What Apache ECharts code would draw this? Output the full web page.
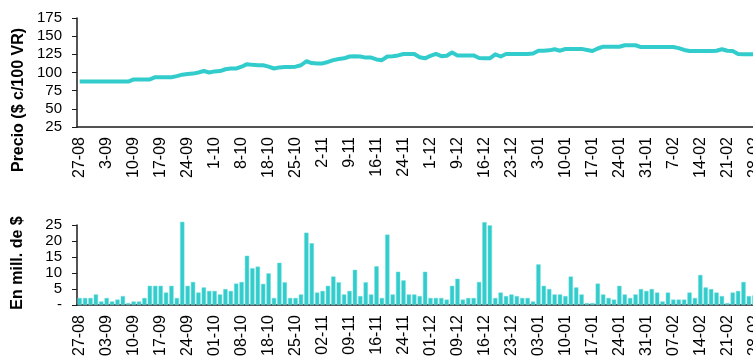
<!DOCTYPE html>
<html>
<head>
<meta charset="utf-8">
<script src="https://cdn.jsdelivr.net/npm/echarts@6/dist/echarts.min.js"></script>
<style>
  html, body { margin: 0; padding: 0; background: #fff; }
  #chart { width: 753px; height: 360px; }
</style>
</head>
<body>
<div id="chart"></div>
<script>
// Trading days (dd-mm)
const fechas = [
  '27-08','28-08','29-08','30-08','31-08',
  '03-09','04-09','05-09','06-09','07-09',
  '10-09','11-09','12-09','13-09','14-09',
  '17-09','18-09','19-09','20-09','21-09',
  '24-09','25-09','26-09','27-09','28-09',
  '01-10','02-10','03-10','04-10','05-10',
  '08-10','09-10','10-10','11-10','12-10',
  '18-10','19-10','22-10','23-10','24-10',
  '25-10','26-10','29-10','30-10','31-10',
  '02-11','05-11','06-11','07-11','08-11',
  '09-11','12-11','13-11','14-11','15-11',
  '16-11','19-11','20-11','21-11','22-11',
  '24-11','26-11','27-11','28-11','29-11',
  '01-12','03-12','04-12','05-12','06-12',
  '09-12','10-12','11-12','12-12','13-12',
  '16-12','17-12','18-12','19-12','20-12',
  '23-12','26-12','27-12','28-12','31-12',
  '03-01','04-01','07-01','08-01','09-01',
  '10-01','11-01','14-01','15-01','16-01',
  '17-01','18-01','21-01','22-01','23-01',
  '24-01','25-01','28-01','29-01','30-01',
  '31-01','01-02','04-02','05-02','06-02',
  '07-02','08-02','11-02','12-02','13-02',
  '14-02','15-02','18-02','19-02','20-02',
  '21-02','22-02','25-02','26-02','27-02',
  '28-02'
];

// Price, $ c/100 VR
const precio = [
  87.5, 87.5, 87.5, 87.5, 87.5, 87.5, 87.5, 87.5, 87.5, 87.5,
  90.5, 90.5, 90.5, 90.5, 93.5, 93.5, 93.5, 93.5,
  95, 97, 98, 98.5, 100, 102, 100, 101.5, 102, 104.5,
  105.5, 105.5, 108, 111.5, 110.5, 110, 110, 108, 105.5, 107,
  107.5, 107.5, 108, 110, 115.5, 113, 112.5, 112.5, 114.5, 117, 118.5,
  119.5, 122, 122.5, 122, 120.5, 120.5, 118, 117, 122, 122.5,
  123.5, 125.5, 125.5, 125.5, 121, 119.5, 123, 125.5, 122.5, 123,
  127.5, 123.5, 123.5, 123.5, 123.5, 120, 119.5, 119.5, 125, 122,
  125.5, 125.5, 125.5, 125.5, 125.5, 126, 130, 130, 130.5, 132,
  130, 132.3, 132.5, 132.5, 132.5, 131, 129.5, 133, 135.5, 135.5,
  135.5, 135.5, 137.5, 137.5, 137.5, 135, 135, 135, 135, 135,
  135, 135, 133.5, 131, 129.5, 129.5, 129.5, 129.5, 129.5, 130,
  132, 130, 129.5, 125.5, 125, 125, 125
];

// Traded volume, millions of $
const volumen = [
  2.2, 2.2, 2.2, 3.3, 1.1, 2.2, 1.1, 1.7, 2.8, 0.6,
  1.1, 1.1, 2.2, 6.0, 6.0, 6.0, 3.9, 6.0, 2.2, 26.0,
  6.0, 7.2, 3.9, 5.5, 4.4, 4.4, 3.3, 5.0, 4.4, 6.7,
  7.2, 15.4, 11.5, 12.0, 6.6, 9.9, 2.2, 13.2, 7.1, 2.2,
  2.2, 3.3, 22.6, 19.3, 3.9, 4.4, 6.0, 8.9, 7.1, 3.3,
  4.4, 11.0, 2.8, 7.1, 3.3, 12.1, 2.2, 22.0, 3.3, 10.4,
  7.7, 3.3, 3.3, 2.8, 10.4, 2.2, 2.2, 2.2, 1.7, 6.0,
  8.2, 1.7, 2.2, 2.2, 7.2, 25.9, 24.9, 2.2, 3.9, 2.8,
  3.3, 2.8, 2.2, 2.2, 1.1, 12.7, 6.0, 5.0, 3.3, 3.3,
  2.8, 8.9, 5.5, 3.3, 0.6, 0.6, 6.7, 3.3, 2.2, 1.7,
  6.0, 3.3, 2.2, 3.3, 5.0, 4.4, 5.0, 3.9, 1.1, 3.9,
  1.7, 1.7, 1.7, 3.9, 2.2, 9.4, 5.5, 5.0, 3.9, 2.8,
  0.6, 3.9, 4.4, 7.2, 2.8, 3.0
];

const precioEje = { min: 25, max: 175, interval: 25 };
const volumenEje = { min: 0, max: 25, interval: 5 };
const tituloPrecio = 'Precio ($ c/100 VR)';
const tituloVolumen = 'En mill. de $';

const TURQ = '#33CCCC';
const AXIS = '#1a1a1a';
const FONT = 'Liberation Sans, Arial, sans-serif';

const chart = echarts.init(document.getElementById('chart'), null, { renderer: 'canvas' });

function xAxisCfg(gridIndex, stripZero) {
  return {
    type: 'category',
    gridIndex: gridIndex,
    data: fechas,
    boundaryGap: true,
    axisLine: { lineStyle: { color: AXIS, width: 1.5 } },
    axisTick: { show: false },
    axisLabel: {
      interval: 4,
      rotate: 90,
      margin: 10,
      color: '#000',
      fontFamily: FONT,
      fontSize: 16,
      hideOverlap: false,
      formatter: stripZero ? (v => v.replace(/^0/, '')) : (v => v)
    },
    splitLine: { show: false }
  };
}

function yAxisCfg(gridIndex, cfg, fmt) {
  return {
    type: 'value',
    gridIndex: gridIndex,
    min: cfg.min,
    max: cfg.max,
    interval: cfg.interval,
    axisLine: { show: true, lineStyle: { color: AXIS, width: 1.5 } },
    axisTick: { show: true, length: 5, lineStyle: { color: AXIS } },
    axisLabel: {
      color: '#000',
      fontFamily: FONT,
      fontSize: 15,
      margin: 15,
      formatter: fmt
    },
    splitLine: { show: false }
  };
}

chart.setOption({
  animation: false,
  backgroundColor: '#ffffff',
  grid: [
    { left: 77, width: 680, top: 18, height: 109, containLabel: false, outerBoundsMode: 'none' },
    { left: 77, width: 680, top: 225, height: 80, containLabel: false, outerBoundsMode: 'none' }
  ],
  xAxis: [xAxisCfg(0, true), xAxisCfg(1, false)],
  yAxis: [
    yAxisCfg(0, precioEje, v => String(v)),
    yAxisCfg(1, volumenEje, v => (v === 0 ? '-' : String(v)))
  ],
  graphic: [
    {
      type: 'text',
      x: 19, y: 100,
      rotation: Math.PI / 2,
      style: {
        text: tituloPrecio,
        fill: '#000',
        font: 'bold 16px ' + FONT,
        textAlign: 'center',
        textVerticalAlign: 'middle'
      }
    },
    {
      type: 'text',
      x: 18, y: 263,
      rotation: Math.PI / 2,
      style: {
        text: tituloVolumen,
        fill: '#000',
        font: 'bold 16px ' + FONT,
        textAlign: 'center',
        textVerticalAlign: 'middle'
      }
    }
  ],
  series: [
    {
      type: 'line',
      xAxisIndex: 0,
      yAxisIndex: 0,
      data: precio,
      symbol: 'none',
      lineStyle: { color: TURQ, width: 4, join: 'round' },
      itemStyle: { color: TURQ }
    },
    {
      type: 'bar',
      xAxisIndex: 1,
      yAxisIndex: 1,
      data: volumen,
      clip: false,
      barCategoryGap: '20%',
      itemStyle: { color: TURQ, borderColor: '#6fdcdc', borderWidth: 0.5 }
    }
  ]
});
</script>
</body>
</html>
